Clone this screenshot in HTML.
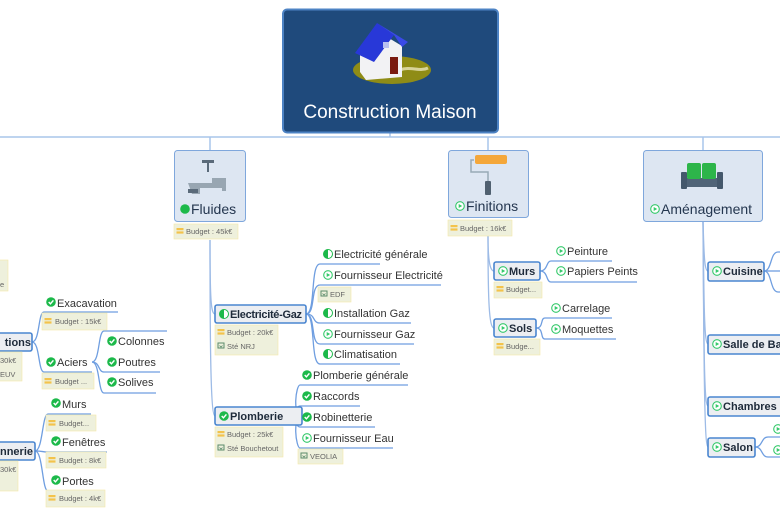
<!DOCTYPE html>
<html><head><meta charset="utf-8"><style>
html,body{margin:0;padding:0;background:#fff;width:780px;height:516px;overflow:hidden}
svg text{font-family:"Liberation Sans",sans-serif}
.l{font-size:11px;fill:#333}
.b{font-size:11px;font-weight:bold;fill:#1e2a3a}
.n{font-size:7.5px;fill:#666}
.t{font-size:14px;fill:#24364f}
</style></head><body>
<svg width="780" height="516" viewBox="0 0 780 516" xmlns="http://www.w3.org/2000/svg">
<defs>
<g id="chk"><circle r="4.8" fill="#1cb94a"/><polyline points="-2.3,0 -0.6,1.8 2.4,-1.6" fill="none" stroke="#fff" stroke-width="1.4"/></g>
<g id="ply"><circle r="4.3" fill="#fff" stroke="#34c96a" stroke-width="1.1"/><polygon points="-1.3,-2 2.2,0 -1.3,2" fill="#34c96a"/></g>
<g id="hlf"><circle r="4.5" fill="#fff" stroke="#1cb94a" stroke-width="1"/><path d="M0,-4.5 A4.5,4.5 0 0,0 0,4.5 Z" fill="#1cb94a"/></g>
<g id="nb"><rect x="-3.5" y="-3" width="7" height="2.2" fill="#f3c34b"/><rect x="-3.5" y="0.4" width="7" height="2.2" fill="#f3c34b"/></g>
<g id="nc"><rect x="-3" y="-3" width="6" height="5" fill="none" stroke="#5a8a6a" stroke-width="1"/><path d="M-1.5,-0.5 L0,1 L1.5,-0.5" fill="none" stroke="#5a8a6a" stroke-width="0.8"/></g>
</defs>

<g fill="none" stroke="#a9c5ea" stroke-width="1.5">
<path d="M0,137 H780"/>
<path d="M390,133 V137"/>
<path d="M210,137 V150"/><path d="M488,137 V150"/><path d="M703,137 V150"/>
</g>
<g fill="none" stroke="#9dbbe6" stroke-width="1.3">
<path d="M210,240 C210,300 211,314 215,314"/>
<path d="M210,240 C210,360 211,416 215,416"/>
<path d="M488,236 C488,255 489,271 494,271"/>
<path d="M488,236 C488,300 489,328 494,328"/>
<path d="M703,222 C704,250 704,271 708,271"/>
<path d="M703,222 C704,300 704,344 708,344"/>
<path d="M703,222 C704,350 704,406 708,406"/>
<path d="M703,222 C704,400 705,447 708,447"/>
</g>
<g fill="none" stroke="#6f9ee0" stroke-width="1.3">
<path d="M306,314 C316,314 310,264 320,264 H380"/>
<path d="M306,314 C316,314 310,285 320,285 H441"/>
<path d="M306,314 C316,314 312,323 320,323 H411"/>
<path d="M306,314 C316,314 310,344 320,344 H414"/>
<path d="M306,314 C316,314 310,364 320,364 H400"/>
<path d="M302,416 C292,416 296,385 300,385 H408"/>
<path d="M302,416 C292,416 296,406 300,406 H360"/>
<path d="M302,416 C292,416 296,427 300,427 H375"/>
<path d="M302,416 C292,416 296,448 300,448 H393"/>
<path d="M540,271 C548,271 546,261 551,261 H612"/>
<path d="M540,271 C548,271 546,282 551,282 H637"/>
<path d="M536,328 C544,328 540,318 545,318 H612"/>
<path d="M536,328 C544,328 540,339 545,339 H616"/>
<path d="M764,271 C772,271 770,252 778,252 H780"/>
<path d="M764,271 H780"/>
<path d="M764,271 C772,271 770,292 778,292 H780"/>
<path d="M755,447 C763,447 761,437 768,437 H780"/>
<path d="M755,447 C763,447 761,457 768,457 H780"/>
<path d="M32,342 C40,342 38,312 44,312 H118"/>
<path d="M32,342 C40,342 38,372 44,372 H92"/>
<path d="M92,362 C100,362 98,331 104,331 H167"/>
<path d="M92,362 C100,362 98,372 104,372 H160"/>
<path d="M92,362 C100,362 98,393 104,393 H156"/>
<path d="M35,451 C43,451 42,414 48,414 H91"/>
<path d="M35,451 C43,451 42,452 48,452 H107"/>
<path d="M35,451 C43,451 42,491 48,491 H97"/>
</g>

<rect x="283" y="9.5" width="215" height="123" rx="4" fill="#1f4a7c" stroke="#4d83c4" stroke-width="2"/>
<ellipse cx="392" cy="70" rx="39" ry="14" fill="#8f8c16"/>
<path d="M400,70 C410,66 420,72 428,68" stroke="#d8d49a" stroke-width="3" fill="none"/>
<polygon points="360,52 379,32 402,46 402,77 366,80 360,72" fill="#f2f2f4"/>
<polygon points="355,53 377,23 394,35 374,62" fill="#2838d8"/>
<polygon points="377,23 408,42 402,47 394,35" fill="#3a4ae8"/>
<rect x="390" y="57" width="8" height="17" fill="#7a1a10"/>
<rect x="383" y="42" width="6" height="6" fill="#b8c0f0"/>
<text x="390" y="118" text-anchor="middle" style="font-size:19px;fill:#fff">Construction Maison</text>

<rect x="174.5" y="150.5" width="71" height="71" rx="3" fill="#dde6f2" stroke="#7fa7dc"/>
<path d="M188,183 h24 v-5 h14 v13 h-4 v-3 h-22 v6 h-8z" fill="#98a6b2"/><rect x="202" y="160" width="12" height="3" fill="#5a6a7a"/><rect x="207" y="162" width="2" height="10" fill="#5a6a7a"/><rect x="188" y="189" width="10" height="4" fill="#5a6a7a"/>
<circle cx="185" cy="209" r="4.8" fill="#1cb94a"/>
<text x="191" y="214" class="t">Fluides</text>
<rect x="174" y="224" width="64" height="15" fill="#eef0dc" stroke="#f4e9a8" stroke-width="0.6"/>
<use href="#nb" x="180" y="231"/><text x="186" y="234" class="n">Budget : 45k€</text>

<rect x="448.5" y="150.5" width="80" height="67" rx="3" fill="#dde6f2" stroke="#7fa7dc"/>
<rect x="475" y="155" width="32" height="9" rx="2" fill="#f4a73a"/><path d="M474,160 h-3 v12 h17 v10" fill="none" stroke="#98aab6" stroke-width="1.5"/><rect x="485" y="181" width="6" height="14" rx="1" fill="#506070"/>
<use href="#ply" x="460" y="206"/>
<text x="466" y="211" class="t">Finitions</text>
<rect x="448" y="220" width="64" height="16" fill="#eef0dc" stroke="#f4e9a8" stroke-width="0.6"/>
<use href="#nb" x="454" y="228"/><text x="460" y="231" class="n">Budget : 16k€</text>

<rect x="643.5" y="150.5" width="119" height="71" rx="3" fill="#dde6f2" stroke="#7fa7dc"/>
<rect x="681" y="172" width="6" height="17" rx="1" fill="#44586c"/><rect x="717" y="172" width="6" height="17" rx="1" fill="#44586c"/><rect x="687" y="178" width="30" height="9" fill="#506478"/>
<rect x="687" y="163" width="14" height="16" rx="2" fill="#2db54a"/><rect x="702" y="163" width="14" height="16" rx="2" fill="#2db54a"/>
<use href="#ply" x="655" y="209"/>
<text x="661" y="214" class="t">Aménagement</text>

<g fill="#eceef2" stroke="#4a86d0" stroke-width="1.6">
<rect x="215" y="305" width="91" height="18" rx="2"/>
<rect x="215" y="407" width="87" height="18" rx="2"/>
<rect x="494" y="262" width="46" height="18" rx="2"/>
<rect x="494" y="319" width="42" height="18" rx="2"/>
<rect x="708" y="262" width="56" height="19" rx="2"/>
<rect x="708" y="335" width="76" height="19" rx="2"/>
<rect x="708" y="397" width="76" height="19" rx="2"/>
<rect x="708" y="438" width="47" height="19" rx="2"/>
<rect x="-5" y="333" width="37" height="18" rx="2"/>
<rect x="-5" y="442" width="40" height="18" rx="2"/>
</g>
<use href="#hlf" x="224" y="314"/><text x="230" y="318" class="b" textLength="72">Electricité-Gaz</text>
<use href="#chk" x="224" y="416"/><text x="230" y="420" class="b">Plomberie</text>
<use href="#ply" x="503" y="271"/><text x="509" y="275" class="b">Murs</text>
<use href="#ply" x="503" y="328"/><text x="509" y="332" class="b">Sols</text>
<use href="#ply" x="717" y="271"/><text x="723" y="275" class="b">Cuisine</text>
<use href="#ply" x="717" y="344"/><text x="723" y="348" class="b">Salle de Bains</text>
<use href="#ply" x="717" y="406"/><text x="723" y="410" class="b">Chambres</text>
<use href="#ply" x="717" y="447"/><text x="723" y="451" class="b">Salon</text>
<text x="31" y="346" class="b" text-anchor="end">tions</text>
<text x="33" y="455" class="b" text-anchor="end">nnerie</text>
<use href="#ply" x="778" y="429"/><use href="#ply" x="778" y="450"/>

<g fill="#eef0dc" stroke="#f4e9a8" stroke-width="0.6">
<rect x="215" y="325" width="63" height="30"/>
<rect x="215" y="427" width="68" height="30"/>
<rect x="318" y="287" width="33" height="15"/>
<rect x="298" y="449" width="45" height="15"/>
<rect x="494" y="282" width="48" height="16"/>
<rect x="494" y="339" width="46" height="16"/>
<rect x="-2" y="260" width="10" height="31"/>
<rect x="-2" y="352" width="24" height="29"/>
<rect x="-2" y="461" width="20" height="30"/>
<rect x="42" y="313" width="65" height="17"/>
<rect x="42" y="373" width="52" height="16"/>
<rect x="46" y="415" width="50" height="16"/>
<rect x="46" y="452" width="60" height="16"/>
<rect x="46" y="490" width="59" height="17"/>
</g>
<use href="#nb" x="221" y="332"/><text x="227" y="335" class="n">Budget : 20k€</text>
<use href="#nc" x="221" y="346"/><text x="227" y="349" class="n">Sté NRJ</text>
<use href="#nb" x="221" y="434"/><text x="227" y="437" class="n">Budget : 25k€</text>
<use href="#nc" x="221" y="448"/><text x="227" y="451" class="n">Sté Bouchetout</text>
<use href="#nc" x="324" y="294"/><text x="330" y="297" class="n">EDF</text>
<use href="#nc" x="304" y="456"/><text x="310" y="459" class="n">VEOLIA</text>
<use href="#nb" x="500" y="289"/><text x="506" y="292" class="n">Budget...</text>
<use href="#nb" x="500" y="346"/><text x="506" y="349" class="n">Budge...</text>
<text x="0" y="287" class="n">e</text>
<text x="0" y="363" class="n">30k€</text><text x="0" y="377" class="n">EUV</text>
<text x="0" y="472" class="n">30k€</text>
<use href="#nb" x="48" y="321"/><text x="55" y="324" class="n">Budget : 15k€</text>
<use href="#nb" x="48" y="381"/><text x="55" y="384" class="n">Budget ...</text>
<use href="#nb" x="52" y="423"/><text x="59" y="426" class="n">Budget...</text>
<use href="#nb" x="52" y="460"/><text x="59" y="463" class="n">Budget : 8k€</text>
<use href="#nb" x="52" y="498"/><text x="59" y="501" class="n">Budget : 4k€</text>

<use href="#hlf" x="328" y="254"/><text x="334" y="258" class="l">Electricité générale</text>
<use href="#ply" x="328" y="275"/><text x="334" y="279" class="l">Fournisseur Electricité</text>
<use href="#hlf" x="328" y="313"/><text x="334" y="317" class="l">Installation Gaz</text>
<use href="#ply" x="328" y="334"/><text x="334" y="338" class="l">Fournisseur Gaz</text>
<use href="#hlf" x="328" y="354"/><text x="334" y="358" class="l">Climatisation</text>
<use href="#chk" x="307" y="375"/><text x="313" y="379" class="l">Plomberie générale</text>
<use href="#chk" x="307" y="396"/><text x="313" y="400" class="l">Raccords</text>
<use href="#chk" x="307" y="417"/><text x="313" y="421" class="l">Robinetterie</text>
<use href="#ply" x="307" y="438"/><text x="313" y="442" class="l">Fournisseur Eau</text>
<use href="#ply" x="561" y="251"/><text x="567" y="255" class="l">Peinture</text>
<use href="#ply" x="561" y="271"/><text x="567" y="275" class="l">Papiers Peints</text>
<use href="#ply" x="556" y="308"/><text x="562" y="312" class="l">Carrelage</text>
<use href="#ply" x="556" y="329"/><text x="562" y="333" class="l">Moquettes</text>
<use href="#chk" x="51" y="302"/><text x="57" y="307" class="l">Exacavation</text>
<use href="#chk" x="51" y="362"/><text x="57" y="366" class="l">Aciers</text>
<use href="#chk" x="112" y="341"/><text x="118" y="345" class="l">Colonnes</text>
<use href="#chk" x="112" y="362"/><text x="118" y="366" class="l">Poutres</text>
<use href="#chk" x="112" y="382"/><text x="118" y="386" class="l">Solives</text>
<use href="#chk" x="56" y="403"/><text x="62" y="408" class="l">Murs</text>
<use href="#chk" x="56" y="441"/><text x="62" y="446" class="l">Fenêtres</text>
<use href="#chk" x="56" y="480"/><text x="62" y="485" class="l">Portes</text>
</svg>
</body></html>
